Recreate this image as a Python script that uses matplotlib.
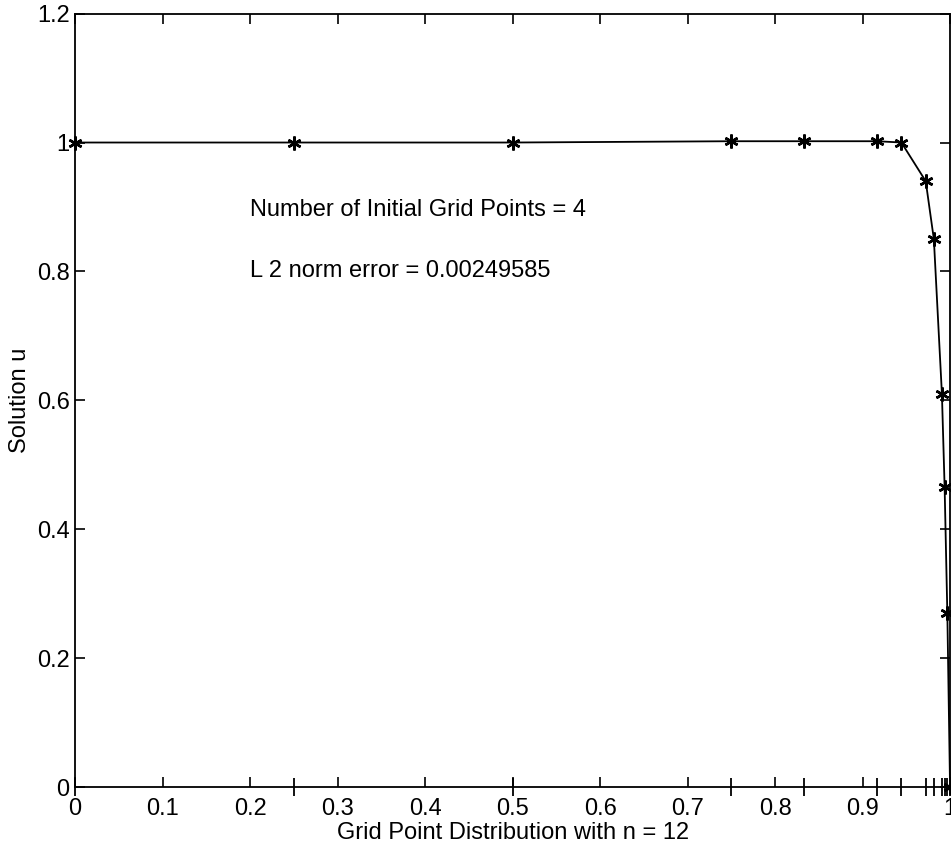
"""Solution u on an adapted grid, MATLAB style."""
import matplotlib
matplotlib.use("Agg")
import matplotlib.pyplot as plt

# grid point locations and the solution at each of them
grid_x = [0.0, 0.25, 0.5, 0.75, 0.8333, 0.9167, 0.9444, 0.9722,
          0.9815, 0.9907, 0.9938, 0.9969, 1.0]
solution_u = [1.0, 1.0, 1.0, 1.002, 1.002, 1.002, 1.0, 0.94,
              0.85, 0.61, 0.465, 0.27, 0.0]

x_ticks = [0, 0.1, 0.2, 0.3, 0.4, 0.5, 0.6, 0.7, 0.8, 0.9, 1.0]
x_tick_labels = ["0", "0.1", "0.2", "0.3", "0.4", "0.5", "0.6", "0.7",
                 "0.8", "0.9", "1"]
y_ticks = [0, 0.2, 0.4, 0.6, 0.8, 1.0, 1.2]
y_tick_labels = ["0", "0.2", "0.4", "0.6", "0.8", "1", "1.2"]

n_initial = 4
l2_error = 0.00249585

plt.rcParams['font.family'] = ['Liberation Sans Narrow', 'Liberation Sans',
                               'DejaVu Sans']
plt.rcParams['font.size'] = 17

fig = plt.figure(figsize=(9.51, 8.5), dpi=100)
ax = fig.add_axes([0.079, 0.074, 0.92, 0.91])

ax.plot(grid_x, solution_u, color='black', lw=1.3,
        marker=(6, 2, 0), markersize=10, markeredgewidth=1.8,
        clip_on=False, zorder=3)

# grid point distribution marks across the bottom axis
ax.plot(grid_x, [0] * len(grid_x), linestyle='none', marker='|',
        color='black', markersize=13, markeredgewidth=1.3,
        clip_on=False, zorder=4)

ax.text(0.2, 0.895, f"Number of Initial Grid Points = {n_initial}",
        va='center', ha='left')
ax.text(0.2, 0.8, f"L 2 norm error = {l2_error}", va='center', ha='left')

ax.set_xlim(0, 1)
ax.set_ylim(0, 1.2)
ax.set_xticks(x_ticks)
ax.set_xticklabels(x_tick_labels)
ax.set_yticks(y_ticks)
ax.set_yticklabels(y_tick_labels)
ax.tick_params(direction='in', top=True, right=True, length=7,
               width=1.2, pad=4)
ax.tick_params(axis='x', pad=8)
for spine in ax.spines.values():
    spine.set_linewidth(1.3)

ax.set_xlabel("Grid Point Distribution with n = 12", labelpad=1)
ax.set_ylabel("Solution u", labelpad=4)

fig.savefig("out.png", dpi=100)
